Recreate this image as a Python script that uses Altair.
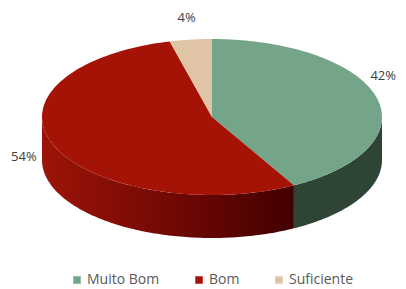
import altair as alt
import pandas as pd

categories = ["Muito Bom", "Bom", "Suficiente"]
values = [42, 54, 4]
labels = ["42%", "54%", "4%"]
top_colors = ["#75A589", "#A51206", "#DFC4A5"]

# layout constants (page pixels)
CX, CY, RX, RY, DEPTH = 212, 117, 170, 78, 43
N = 120
W, H = 390, 281

total = sum(values)
fr_start, fr_end = [], []
cum = 0
for v in values:
    fr_start.append(cum / total)
    cum += v
    fr_end.append(cum / total)

# top face table: center vertex (k=-1) + arc vertices
top_rows = []
for i, c in enumerate(categories):
    for k in range(-1, N + 1):
        top_rows.append(dict(cat=c, start=fr_start[i], end=fr_end[i], k=k))
top_df = pd.DataFrame(top_rows)

# side wall tables (front half: fraction 0.25..0.75)
def side_df(i):
    a = max(fr_start[i], 0.25)
    b = min(fr_end[i], 0.75)
    rows = []
    if a < b:
        for k in range(2 * N + 2):
            rows.append(dict(cat=categories[i], a=a, b=b, k=k))
    return pd.DataFrame(rows)

xs = alt.Scale(domain=[8, 8 + W], nice=False, zero=False)
ys = alt.Scale(domain=[8 + H, 8], nice=False, zero=False)

def xy_enc():
    return dict(
        x=alt.X("px:Q", scale=xs, axis=None),
        y=alt.Y("py:Q", scale=ys, axis=None),
        order=alt.Order("k:Q"),
    )

side_calc = dict(
    f=f"datum.k <= {N} ? datum.a + (datum.b - datum.a) * datum.k / {N} : datum.b - (datum.b - datum.a) * (datum.k - {N} - 1) / {N}",
)

def side_layer(i, fill):
    d = side_df(i)
    return (
        alt.Chart(d)
        .transform_calculate(**side_calc)
        .transform_calculate(
            px=f"{CX} + {RX} * sin(2 * PI * datum.f)",
            py=f"{CY} - {RY} * cos(2 * PI * datum.f) + (datum.k > {N} ? {DEPTH} : 0)",
        )
        .mark_line(filled=True, fill=fill, strokeWidth=0, interpolate="linear")
        .encode(**xy_enc())
    )

green_side = side_layer(0, "#2E4536")
red_side = side_layer(
    1,
    alt.Gradient(
        gradient="linear",
        x1=1, y1=0, x2=0, y2=0,
        stops=[
            alt.GradientStop(color="#420000", offset=0),
            alt.GradientStop(color="#6E0804", offset=0.45),
            alt.GradientStop(color="#9C1408", offset=1),
        ],
    ),
)

top = (
    alt.Chart(top_df)
    .transform_calculate(
        f="datum.start + (datum.end - datum.start) * datum.k / " + str(N)
    )
    .transform_calculate(
        px=f"datum.k < 0 ? {CX} : {CX} + {RX} * sin(2 * PI * datum.f)",
        py=f"datum.k < 0 ? {CY} : {CY} - {RY} * cos(2 * PI * datum.f)",
    )
    .mark_line(filled=True, strokeWidth=0)
    .encode(
        **xy_enc(),
        color=alt.Color(
            "cat:N",
            scale=alt.Scale(domain=categories, range=top_colors),
            sort=categories,
            legend=alt.Legend(
                title=None,
                orient="none",
                legendX=62,
                legendY=265,
                direction="horizontal",
                symbolType="square",
                symbolSize=56,
                symbolStrokeWidth=0,
                labelFont="Open Sans",
                labelFontSize=14,
                labelColor="#595959",
                columnPadding=32,
                symbolOffset=0,
                labelOffset=3,
                padding=0,
            ),
        ),
        detail="cat:N",
    )
)

lab_df = pd.DataFrame(
    dict(cat=categories, label=labels, start=fr_start, end=fr_end)
)
text = (
    alt.Chart(lab_df)
    .transform_calculate(m="2 * PI * (datum.start + datum.end) / 2")
    .transform_calculate(
        px=f"{CX} + {RX} * sin(datum.m) * (sin(datum.m) < 0 ? 1.19 : 1.04)",
        py=f"{CY} - {RY} * cos(datum.m) - (cos(datum.m) > 0 ? 22 : -11)",
    )
    .mark_text(font="Open Sans", fontSize=13, color="#404040")
    .encode(
        x=alt.X("px:Q", scale=xs, axis=None),
        y=alt.Y("py:Q", scale=ys, axis=None),
        text="label:N",
    )
)

chart = (
    alt.layer(green_side, red_side, top, text)
    .properties(width=W, height=H, padding=0, autosize=alt.AutoSizeParams(type="none"))
    .configure_view(stroke=None)
)

chart.save("out.html", embed_options={"renderer": "svg", "actions": False})
